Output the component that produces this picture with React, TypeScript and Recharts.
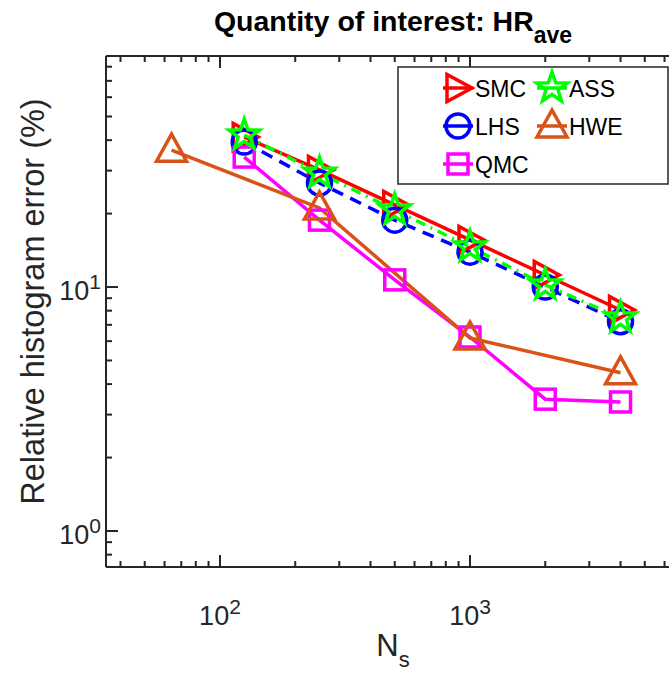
import React from "react";
import { LineChart, Line, XAxis, YAxis, Legend } from "recharts";

// sample sizes N_s
const sampleSizes = [125, 250, 500, 1000, 2000, 4000];
const hweSizes = [64, 250, 1000, 4000];

// relative histogram error (%)
const smcError = [41.2, 30.2, 21.7, 15.6, 11.2, 8.05];
const lhsError = [39.3, 26.7, 18.8, 13.9, 10.0, 7.2];
const qmcError = [34.1, 18.8, 10.7, 6.24, 3.47, 3.38];
const assError = [42.0, 29.3, 20.7, 14.6, 10.2, 7.47];
const hweError = [36.4, 21.1, 6.18, 4.45];

// log axis ticks
const xTicks = [40, 50, 60, 70, 80, 90, 100, 200, 300, 400, 500, 600, 700, 800, 900, 1000, 2000, 3000, 4000, 5000, 6000];
const yTicks = [0.8, 0.9, 1, 2, 3, 4, 5, 6, 7, 8, 9, 10, 20, 30, 40, 50, 60, 70, 80];

const AXIS = "#262626";
const FONT = "'Liberation Sans', Arial, Helvetica, sans-serif";
const LW = 3.5;

const toPoints = (xs: number[], ys: number[]) => xs.map((n, i) => ({ n, err: ys[i] }));

const series = [
  { name: "SMC", kind: "right", color: "#FF0000", dash: undefined, data: toPoints(sampleSizes, smcError) },
  { name: "LHS", kind: "circle", color: "#0000FF", dash: "12 8", data: toPoints(sampleSizes, lhsError) },
  { name: "QMC", kind: "square", color: "#FF00FF", dash: undefined, data: toPoints(sampleSizes, qmcError) },
  { name: "ASS", kind: "star", color: "#00FF00", dash: "10 6 2 6", data: toPoints(sampleSizes, assError) },
  { name: "HWE", kind: "up", color: "#D95319", dash: undefined, data: toPoints(hweSizes, hweError) },
];

const exponent = (v: number) => Math.round(Math.log10(v));
const isMajor = (v: number) => Math.abs(Math.log10(v) - exponent(v)) < 1e-9;

const starPath = (x: number, y: number, R: number) => {
  const r = R * 0.4;
  let d = "";
  for (let k = 0; k < 10; k++) {
    const a = -Math.PI / 2 + (k * Math.PI) / 5;
    const rad = k % 2 === 0 ? R : r;
    d += (k ? "L" : "M") + (x + rad * Math.cos(a)).toFixed(2) + "," + (y + rad * Math.sin(a)).toFixed(2);
  }
  return d + "Z";
};

function MarkerShape({ kind, color, x, y }: { kind: string; color: string; x: number; y: number }) {
  const common = { fill: "none", stroke: color, strokeWidth: LW, strokeLinejoin: "miter" as const };
  switch (kind) {
    case "right":
      return <polygon points={`${x - 11},${y - 13.5} ${x - 11},${y + 13.5} ${x + 14},${y}`} {...common} />;
    case "circle":
      return <circle cx={x} cy={y} r={12} {...common} />;
    case "square":
      return <rect x={x - 10} y={y - 10} width={20} height={20} {...common} />;
    case "star":
      return <path d={starPath(x, y, 16)} {...common} />;
    case "up":
      return <polygon points={`${x},${y - 16} ${x - 15},${y + 11} ${x + 15},${y + 11}`} {...common} />;
    default:
      return null;
  }
}

const markerDot = (kind: string, color: string) => (props: any) => {
  const { cx, cy, index } = props;
  const key = `${kind}-${index}`;
  if (cx == null || cy == null) return <g key={key} />;
  return <MarkerShape key={key} kind={kind} color={color} x={cx} y={cy} />;
};

const SupText = ({ x, y, anchor, exp }: { x: number; y: number; anchor: string; exp: number }) => (
  <text x={x} y={y} textAnchor={anchor} fontSize={27} fill={AXIS} fontFamily={FONT}>
    <tspan>10</tspan>
    <tspan dy={-11} fontSize={21}>{exp}</tspan>
  </text>
);

const BottomTick = (props: any) => {
  const { x, y, payload } = props;
  const major = isMajor(payload.value);
  return (
    <g>
      <line x1={x} x2={x} y1={y} y2={y - (major ? 12 : 6)} stroke={AXIS} strokeWidth={2} />
      {major && <SupText x={x} y={y + 58} anchor="middle" exp={exponent(payload.value)} />}
    </g>
  );
};

const TopTick = (props: any) => {
  const { x, y, payload } = props;
  const major = isMajor(payload.value);
  return <line x1={x} x2={x} y1={y} y2={y + (major ? 12 : 6)} stroke={AXIS} strokeWidth={2} />;
};

const LeftTick = (props: any) => {
  const { x, y, payload } = props;
  const major = isMajor(payload.value);
  return (
    <g>
      <line x1={x} x2={x + (major ? 12 : 6)} y1={y} y2={y} stroke={AXIS} strokeWidth={2} />
      {major && <SupText x={x - 5} y={y + 13} anchor="end" exp={exponent(payload.value)} />}
    </g>
  );
};

const TitleLabel = (props: any) => {
  const { x, y, width, height } = props.viewBox;
  return (
    <text x={x + width / 2} y={y + height - 25} textAnchor="middle" fontSize={28.5} fontWeight="bold" fill="#000" fontFamily={FONT}>
      Quantity of interest: HR
      <tspan dy={12} fontSize={23}>ave</tspan>
    </text>
  );
};

const XLabel = (props: any) => {
  const { x, y, width } = props.viewBox;
  return (
    <text x={x + width / 2} y={y + 89} textAnchor="middle" fontSize={31} fill={AXIS} fontFamily={FONT}>
      N
      <tspan dy={11} fontSize={22}>s</tspan>
    </text>
  );
};

const YLabel = (props: any) => {
  const { x, y, width, height } = props.viewBox;
  const cx = x + width - 62;
  const cy = y + height / 2 - 10;
  return (
    <text
      x={cx}
      y={cy}
      transform={`rotate(-90, ${cx}, ${cy})`}
      textAnchor="middle"
      fontSize={32.5}
      fill={AXIS}
      fontFamily={FONT}
    >
      Relative histogram error (%)
    </text>
  );
};

const LegendBox = () => {
  const rows = 3;
  return (
    <svg width={272} height={120} style={{ display: "block", overflow: "visible" }}>
      <rect x={1} y={1} width={270} height={117} fill="#fff" stroke={AXIS} strokeWidth={1.5} />
      {series.map((s, i) => {
        const col = Math.floor(i / rows);
        const row = i % rows;
        const mx = 61 + col * 94;
        const my = 22 + row * 38;
        return (
          <g key={s.name}>
            <line x1={mx - 15} x2={mx + 15} y1={my} y2={my} stroke={s.color} strokeWidth={LW} />
            <MarkerShape kind={s.kind} color={s.color} x={mx} y={my} />
            <text x={mx + 17} y={my + 9} fontSize={23} fill="#000" fontFamily={FONT}>
              {s.name}
            </text>
          </g>
        );
      })}
    </svg>
  );
};

export default function App() {
  return (
    <div style={{ position: "absolute", left: 0, top: 0, width: 669, height: 674, overflow: "hidden", background: "#fff" }}>
      <LineChart width={680} height={674} margin={{ top: 55, right: 0, bottom: 106, left: 105 }}>
        <XAxis
          xAxisId="b"
          dataKey="n"
          type="number"
          scale="log"
          domain={[35, 6918]}
          allowDataOverflow
          ticks={xTicks}
          interval={0}
          height={1}
          tickSize={0}
          tickMargin={0}
          tickLine={false}
          axisLine={{ stroke: AXIS, strokeWidth: 2 }}
          tick={BottomTick}
          label={XLabel}
        />
        <XAxis
          xAxisId="t"
          orientation="top"
          dataKey="n"
          type="number"
          scale="log"
          domain={[35, 6918]}
          allowDataOverflow
          ticks={xTicks}
          interval={0}
          height={1}
          tickSize={0}
          tickMargin={0}
          tickLine={false}
          axisLine={{ stroke: AXIS, strokeWidth: 2 }}
          tick={TopTick}
          label={TitleLabel}
        />
        <YAxis
          yAxisId="l"
          type="number"
          scale="log"
          domain={[0.712, 88.5]}
          allowDataOverflow
          ticks={yTicks}
          interval={0}
          width={1}
          tickSize={0}
          tickMargin={0}
          tickLine={false}
          axisLine={{ stroke: AXIS, strokeWidth: 2 }}
          tick={LeftTick}
          label={YLabel}
        />
        {series.map((s) => (
          <Line
            key={s.name}
            xAxisId="b"
            yAxisId="l"
            data={s.data}
            dataKey="err"
            name={s.name}
            type="linear"
            stroke={s.color}
            strokeWidth={LW}
            strokeDasharray={s.dash}
            dot={markerDot(s.kind, s.color)}
            activeDot={false}
            isAnimationActive={false}
          />
        ))}
        <Legend
          layout="horizontal"
          verticalAlign="middle"
          align="center"
          content={LegendBox}
          wrapperStyle={{ position: "absolute", left: 397, top: 66, width: 272, height: 120 }}
        />
      </LineChart>
    </div>
  );
}
